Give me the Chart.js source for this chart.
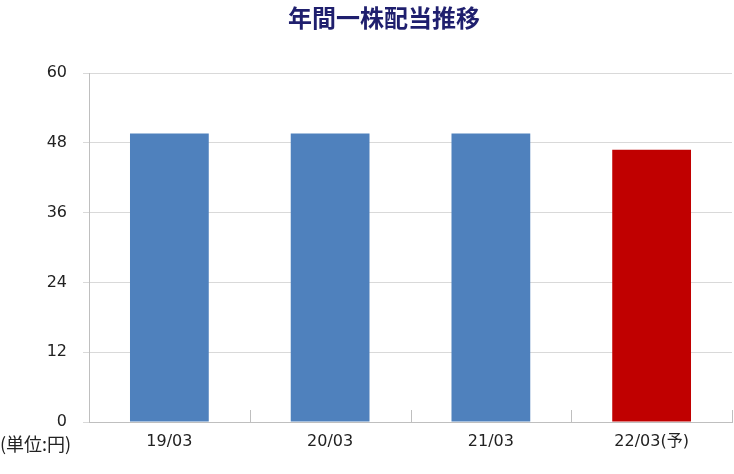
<!DOCTYPE html>
<html>
<head>
<meta charset="utf-8">
<script src="https://cdn.jsdelivr.net/npm/chart.js@4/dist/chart.umd.min.js"></script>
<style>
  html, body { margin: 0; padding: 0; background: #fff; }
  #wrap { width: 734px; height: 474px; }
</style>
</head>
<body>
<div id="wrap"><canvas id="canvasDividend"></canvas></div>
<script>
// data
var labels = ["19/03", "20/03", "21/03", "22/03(予)"];
var dividends = [49.6, 49.6, 49.6, 46.8];
var barColors = ["#4F81BD", "#4F81BD", "#4F81BD", "#C00000"];
var yTicks = [0, 12, 24, 36, 48, 60];
var titleText = "年間一株配当推移";
var unitText = "(単位:円)";

var fontFamily = "'DejaVu Sans', 'Noto Sans CJK JP', sans-serif";

// title, short category separators drawn upward from the x axis, unit note
var extras = {
    id: "extras",
    afterDraw: function(chart) {
        var ctx = chart.ctx;
        var x = chart.scales.x;
        var bottom = chart.chartArea.bottom;
        ctx.save();
        ctx.strokeStyle = "#BFBFBF";
        ctx.lineWidth = 1;
        for (var i = 0; i <= labels.length; i++) {
            var px = Math.round(x.getPixelForValue(i - 0.5)) + 0.5;
            ctx.beginPath();
            ctx.moveTo(px, bottom);
            ctx.lineTo(px, bottom - 12);
            ctx.stroke();
        }
        ctx.fillStyle = "#1F1F6E";
        ctx.font = "bold 24px 'Noto Sans CJK JP', sans-serif";
        ctx.textAlign = "center";
        ctx.textBaseline = "middle";
        ctx.fillText(titleText, 384, 18);

        ctx.fillStyle = "#222";
        ctx.font = "18px 'Noto Sans CJK JP', sans-serif";
        ctx.textAlign = "left";
        ctx.fillText(unitText, 0, 444);
        ctx.restore();
    }
};

var ctx = document.getElementById("canvasDividend").getContext("2d");
new Chart(ctx, {
    type: "bar",
    data: {
        labels: labels,
        datasets: [{
            data: dividends,
            backgroundColor: barColors,
            borderWidth: 0,
            categoryPercentage: 1,
            barPercentage: 0.49
        }]
    },
    options: {
        responsive: true,
        maintainAspectRatio: false,
        animation: false,
        layout: { padding: { left: 0, right: 2, top: 73, bottom: 0 } },
        plugins: {
            legend: { display: false },
            tooltip: { enabled: false },
            title: { display: false }
        },
        scales: {
            x: {
                grid: { display: false, drawTicks: false },
                border: { display: true, color: "#BFBFBF", width: 1 },
                ticks: {
                    color: "#222",
                    font: { family: fontFamily, size: 16 },
                    padding: 10,
                    maxRotation: 0
                },
                afterFit: function(scale) { scale.height = 52; }
            },
            y: {
                min: 0,
                max: 60,
                afterBuildTicks: function(scale) {
                    scale.ticks = yTicks.map(function(v) { return { value: v }; });
                },
                grid: { color: "#D9D9D9", lineWidth: 1, tickLength: 6, drawTicks: true },
                border: { display: true, color: "#BFBFBF", width: 1 },
                ticks: {
                    color: "#222",
                    font: { family: fontFamily, size: 16 },
                    padding: 16
                },
                afterFit: function(scale) { scale.width = 89; }
            }
        }
    },
    plugins: [extras]
});
</script>
</body>
</html>
